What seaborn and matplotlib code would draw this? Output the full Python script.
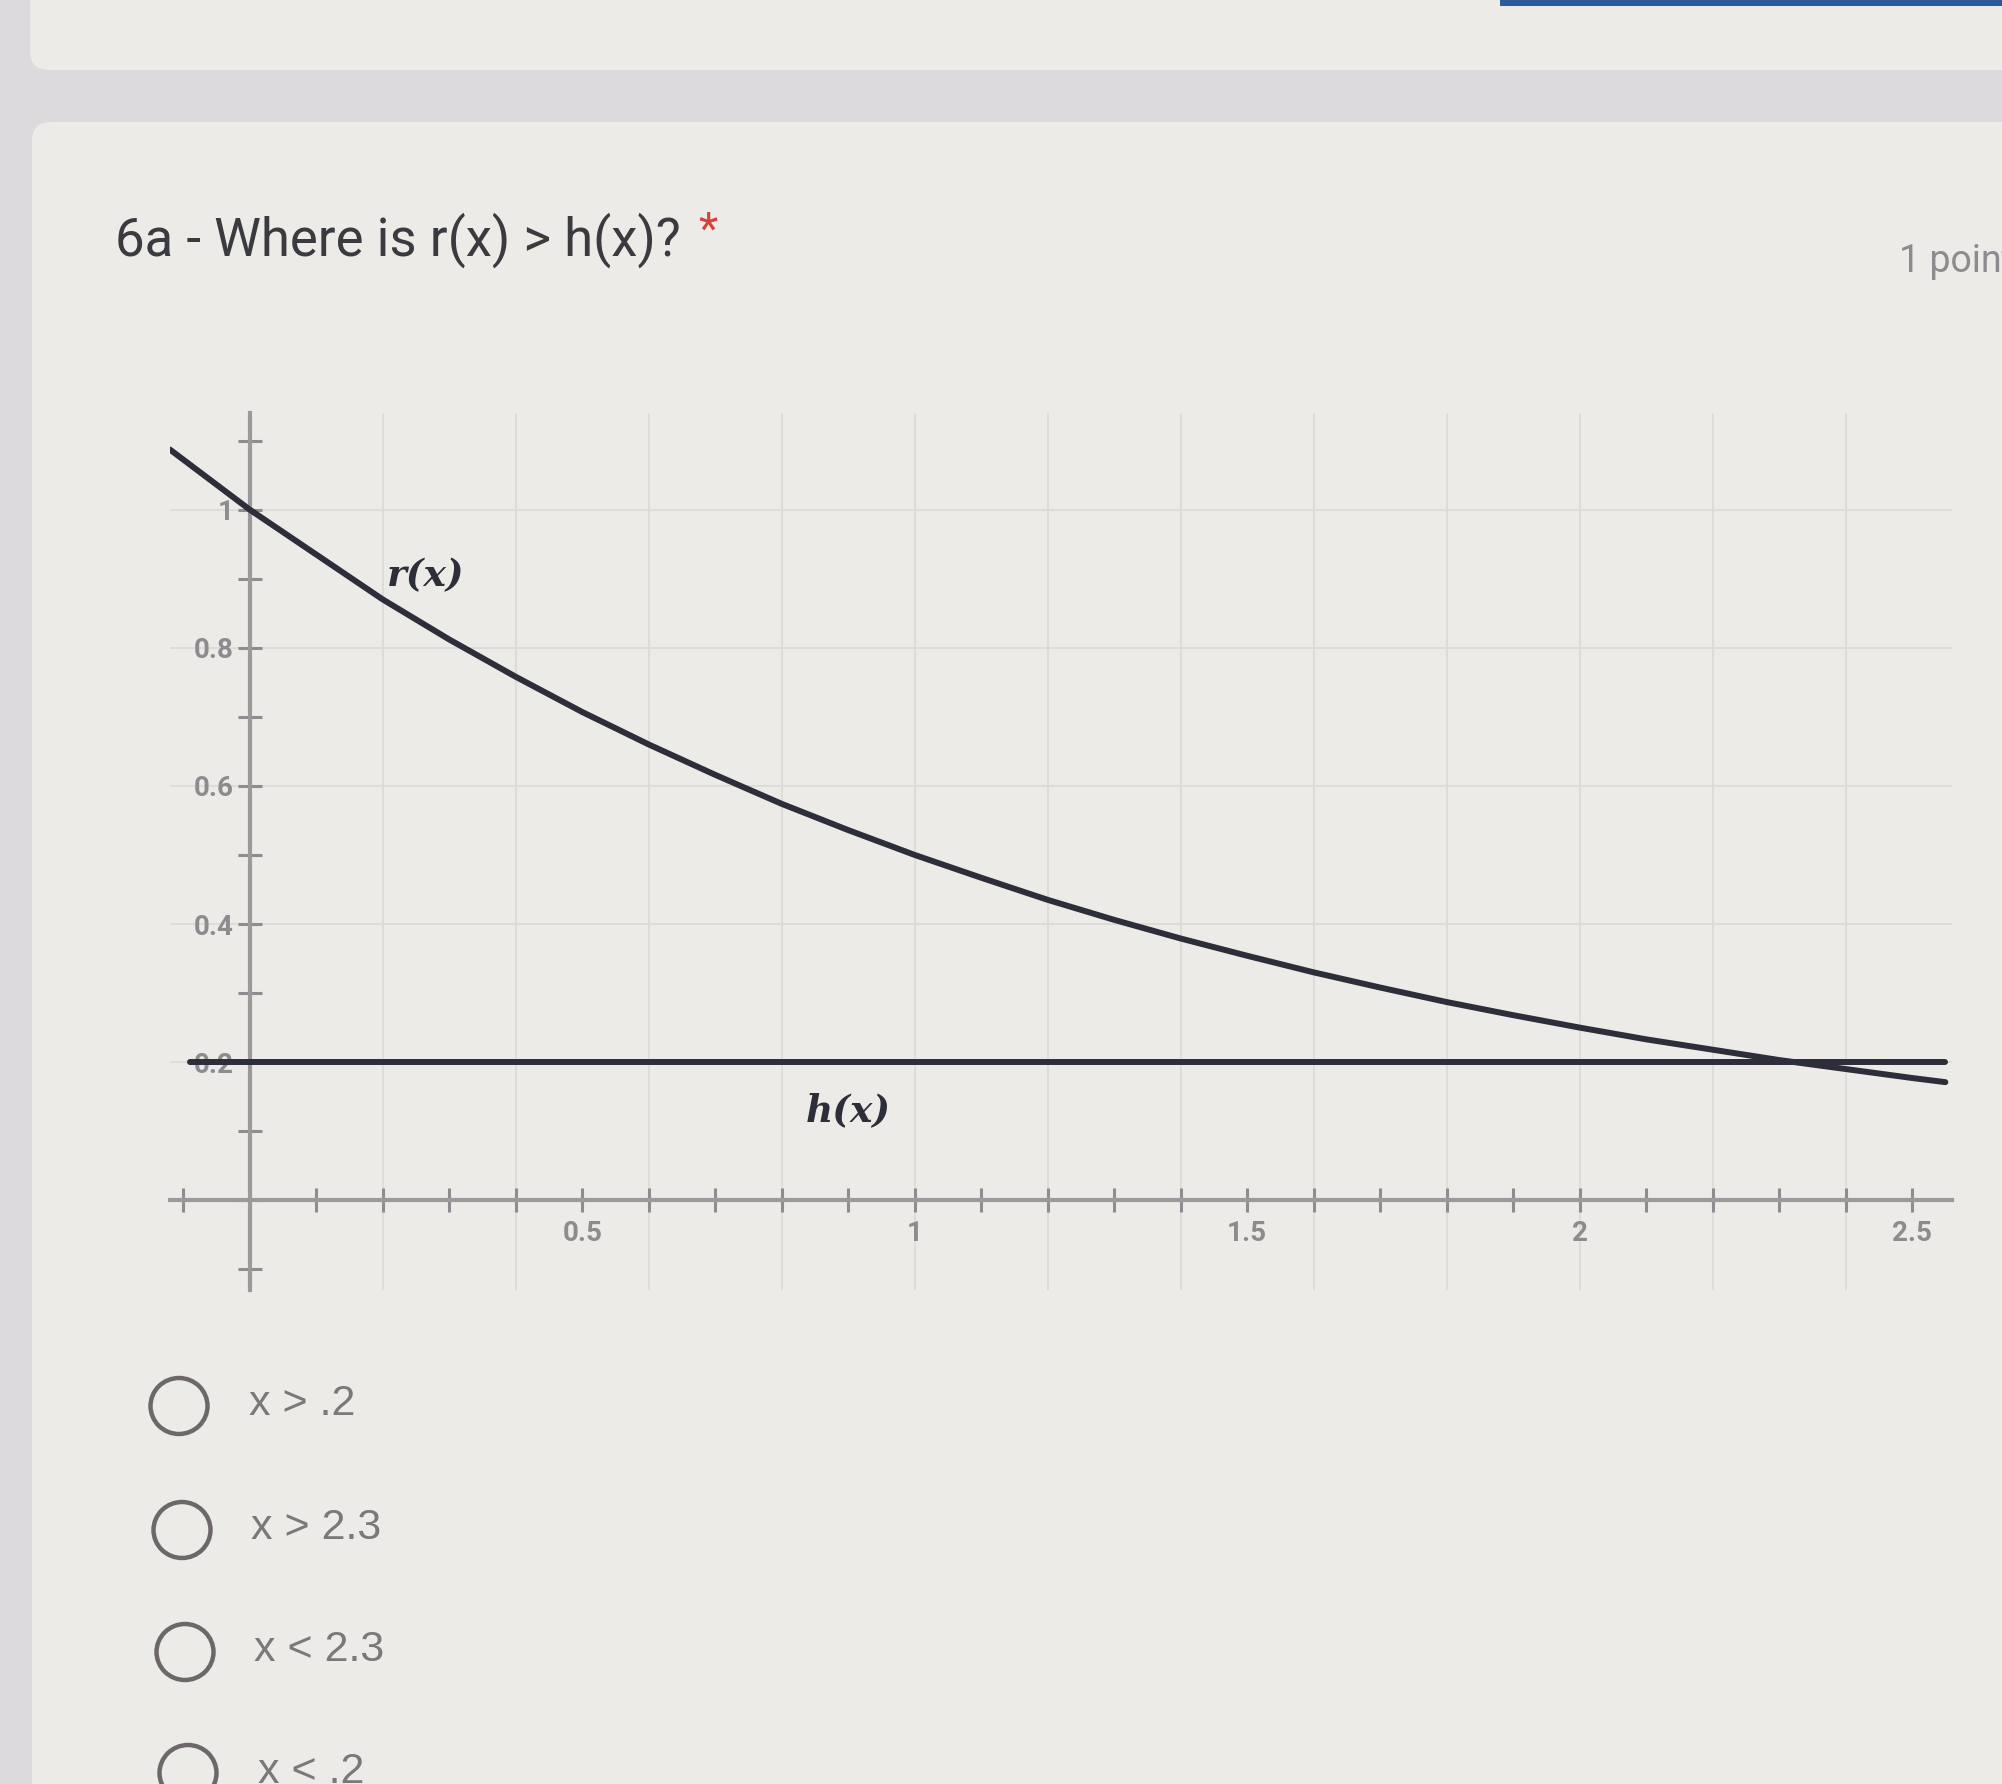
import numpy as np
import pandas as pd
import matplotlib
matplotlib.use("Agg")
import matplotlib.pyplot as plt
import seaborn as sns
from matplotlib.patches import FancyBboxPatch, Ellipse, Rectangle
from matplotlib.ticker import MultipleLocator, FixedLocator, FuncFormatter

# values
r_x = [-0.12, 0.0, 0.1, 0.2, 0.3, 0.4, 0.5, 0.6, 0.7, 0.8, 0.9, 1.0, 1.1, 1.2, 1.3,
       1.4, 1.5, 1.6, 1.7, 1.8, 1.9, 2.0, 2.1, 2.2, 2.3, 2.4, 2.5, 2.55]
r_y = [1.087, 1.0, 0.935, 0.87, 0.812, 0.758, 0.707, 0.66, 0.616, 0.574, 0.536, 0.50, 0.467, 0.435, 0.406,
       0.379, 0.354, 0.33, 0.308, 0.287, 0.268, 0.25, 0.233, 0.218, 0.203, 0.19, 0.177, 0.171]
h_x = [-0.09, 2.55]
h_y = [0.2, 0.2]

x_tick_labels = [0.5, 1, 1.5, 2, 2.5]
y_tick_labels = [0.2, 0.4, 0.6, 0.8, 1]
grid_x = [0.2, 0.4, 0.6, 0.8, 1.0, 1.2, 1.4, 1.6, 1.8, 2.0, 2.2, 2.4]
grid_y = [0.2, 0.4, 0.6, 0.8, 1.0]

question = "6a - Where is r(x) > h(x)?"
options = ["x > .2", "x > 2.3", "x < 2.3", "x < .2"]

sns.set_theme(style="white")
plt.rcParams["font.family"] = ["Roboto", "DejaVu Sans"]

W, H = 2002, 1784
fig = plt.figure(figsize=(W / 100, H / 100), dpi=100)
fig.patch.set_facecolor("#dcdadd")

card = "#ecebe7"


def fx(px):
    return px / W


def fy(py):
    return 1 - py / H


# page cards (behind the axes)
fig.patches.append(FancyBboxPatch((fx(30), fy(70)), 1.2, 0.2, boxstyle="round,pad=0,rounding_size=0.01",
                                  transform=fig.transFigure, facecolor=card, edgecolor="none", zorder=-5))
fig.patches.append(FancyBboxPatch((fx(32), -0.1), 1.2, fy(122) + 0.1, boxstyle="round,pad=0,rounding_size=0.01",
                                  transform=fig.transFigure, facecolor=card, edgecolor="none", zorder=-5))
fig.patches.append(Rectangle((fx(1500), fy(6)), 0.3, 0.01, transform=fig.transFigure,
                             facecolor="#2c5b9a", edgecolor="none", zorder=-4))

# question text
fig.text(fx(115), fy(240), question, fontsize=38, color="#3b3a3f", va="center", ha="left")
fig.text(fx(698), fy(232), "*", fontsize=32, color="#d6403a", va="center", ha="left")
fig.text(fx(1899), fy(262), "1 point", fontsize=27, color="#8d8b8e", va="center", ha="left")

# chart
ax = fig.add_axes([fx(170), fy(1290), (1952 - 170) / W, (1290 - 413) / H])
ax.set_zorder(1)
ax.patch.set_alpha(0)
ax.set_xlim(-0.12, 2.56)
ax.set_ylim(-0.13, 1.14)

for gx in grid_x:
    ax.axvline(gx, color="#dddbd8", lw=1.3, zorder=0)
for gy in grid_y:
    ax.axhline(gy, color="#dddbd8", lw=1.3, zorder=0)

line_col = "#2e2d3a"
sns.lineplot(x=r_x, y=r_y, ax=ax, color=line_col, linewidth=4.3, zorder=3)
sns.lineplot(x=h_x, y=h_y, ax=ax, color=line_col, linewidth=4.3, zorder=3)

lbl_font = ["DejaVu Serif"]
ax.text(0.265, 0.905, "r(x)", fontsize=27, fontweight="bold", fontstyle="italic",
        family=lbl_font, color="#2e2d3a", ha="center", va="center")
ax.text(0.9, 0.13, "h(x)", fontsize=27, fontweight="bold", fontstyle="italic",
        family=lbl_font, color="#2e2d3a", ha="center", va="center")

# axes through the origin
for side in ["top", "right"]:
    ax.spines[side].set_visible(False)
ax.spines["left"].set_position(("data", 0))
ax.spines["bottom"].set_position(("data", 0))
for side in ["left", "bottom"]:
    ax.spines[side].set_color("#9c989b")
    ax.spines[side].set_linewidth(3)
    ax.spines[side].set_zorder(1)

ax.xaxis.set_major_locator(FixedLocator(x_tick_labels))
ax.yaxis.set_major_locator(FixedLocator(y_tick_labels))
ax.xaxis.set_minor_locator(MultipleLocator(0.1))
ax.yaxis.set_minor_locator(MultipleLocator(0.1))
fmt = FuncFormatter(lambda v, p: f"{v:g}")
ax.xaxis.set_major_formatter(fmt)
ax.yaxis.set_major_formatter(fmt)
ax.tick_params(which="both", bottom=True, left=True, direction="inout", length=17, width=2.2,
               color="#8f8b8e")
ax.tick_params(which="major", labelsize=20, labelcolor="#8e8b8e")
ax.tick_params(axis="x", which="major", pad=6)
ax.tick_params(axis="y", which="major", pad=3)
for t in ax.get_xticklabels() + ax.get_yticklabels():
    t.set_fontweight("bold")

# answer options
circle_pos = [(179, 1406), (182, 1530), (185, 1652), (188, 1773)]
text_x = [249, 251, 254, 258]
text_y = [1404, 1528, 1650, 1772]
for (cx, cy), tx, ty, opt in zip(circle_pos, text_x, text_y, options):
    fig.patches.append(Ellipse((fx(cx), fy(cy)), 57 / W, 56 / H, transform=fig.transFigure,
                               facecolor="none", edgecolor="#6e6769", lw=3.2, zorder=2))
    fig.text(fx(tx), fy(ty), opt, fontsize=31, color="#7b787a", va="center", ha="left",
             family=["Liberation Sans", "DejaVu Sans"])

fig.savefig("out.png", dpi=100, facecolor=fig.get_facecolor())
